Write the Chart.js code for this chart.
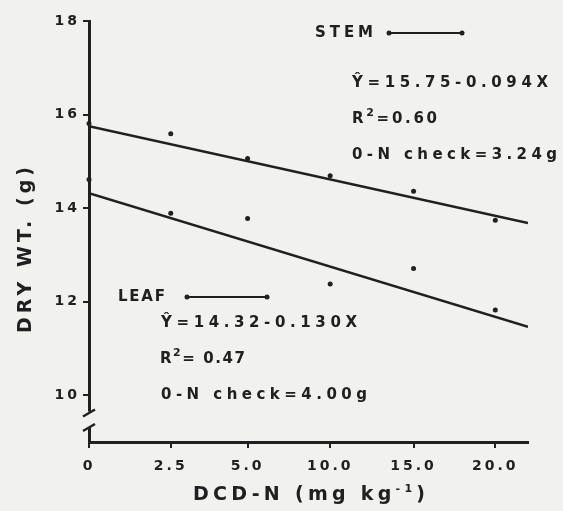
<!DOCTYPE html>
<html lang="en">
<head>
  <meta charset="UTF-8">
  <title>Dry weight vs DCD-N</title>
  <script src="https://cdn.jsdelivr.net/npm/chart.js"></script>
</head>
<style>
  body {
    margin: 0;
    background-color: #f1f1ef;
  }
  #divChart {
    width: 563px;
    height: 511px;
  }
</style>
<body>
  <div id="divChart">
    <canvas id="dryChart"></canvas>
  </div>
  <script>
    // Datos
    const doses = [0, 2.5, 5, 10, 15, 20];
    const tickLabels = ['0', '2.5', '5.0', '10.0', '15.0', '20.0'];
    const stemWt = [15.81, 15.59, 15.06, 14.69, 14.36, 13.74];
    const leafWt = [14.61, 13.89, 13.78, 12.38, 12.71, 11.82];
    const stemFit = [15.75, -0.094];
    const leafFit = [14.32, -0.130];
    const fitRange = [0, 22];
    const yTicks = [10, 12, 14, 16, 18];

    // el eje X esta dibujado a mano: ticks casi equidistantes
    const axisSlots = [0, 1, 1.94, 2.95, 3.97, 4.97];
    function pos(x) {
      let i = 0;
      while (i < doses.length - 2 && x > doses[i + 1]) i++;
      const t = (x - doses[i]) / (doses[i + 1] - doses[i]);
      return axisSlots[i] + t * (axisSlots[i + 1] - axisSlots[i]);
    }

    const ink = '#202020';
    const bg = '#f1f1ef';
    const family = '"DejaVu Sans", Arial, sans-serif';

    // texto con espaciado para ocupar un ancho dado
    function fitText(ctx, segs, x, y, w, align) {
      if (typeof segs === 'string') segs = [[segs]];
      const base = ctx.font;
      const fonts = segs.map(s => s[1] ? 'bold 11px ' + family : base);
      ctx.letterSpacing = '0px';
      let raw = 0, n = 0;
      segs.forEach((s, i) => { ctx.font = fonts[i]; raw += ctx.measureText(s[0]).width; n += s[0].length; });
      const ls = Math.max(0, (w - raw) / (n - 1));
      ctx.letterSpacing = ls + 'px';
      let cx = align === 'center' ? x - w / 2 : x;
      ctx.textAlign = 'left';
      segs.forEach((s, i) => {
        ctx.font = fonts[i];
        ctx.fillText(s[0], cx, s[1] ? y - 6 : y);
        cx += ctx.measureText(s[0]).width;
      });
      ctx.font = base;
    }

    function legendLine(ctx, x1, x2, y) {
      ctx.beginPath();
      ctx.moveTo(x1, y);
      ctx.lineTo(x2, y);
      ctx.lineWidth = 2;
      ctx.strokeStyle = ink;
      ctx.stroke();
      [x1, x2].forEach(x => {
        ctx.beginPath();
        ctx.arc(x, y, 2.5, 0, Math.PI * 2);
        ctx.fill();
      });
    }

    const paperPlugin = {
      id: 'paper',
      beforeDraw(chart) {
        chart.ctx.letterSpacing = '3px';
      },
      afterDraw(chart) {
        const ctx = chart.ctx;
        const y = chart.scales.y;
        const ax = chart.chartArea.left;
        ctx.save();
        // corte del eje Y
        const b1 = y.getPixelForValue(9.63);
        const b2 = y.getPixelForValue(9.32);
        ctx.fillStyle = bg;
        ctx.fillRect(ax - 3, b1 - 1, 6, b2 - b1 + 2);
        ctx.strokeStyle = ink;
        ctx.lineWidth = 2.5;
        [b1, b2].forEach(yy => {
          ctx.beginPath();
          ctx.moveTo(ax - 6, yy + 4);
          ctx.lineTo(ax + 6, yy - 3);
          ctx.stroke();
        });

        ctx.fillStyle = ink;
        ctx.textBaseline = 'middle';

        // titulos de ejes
        ctx.font = 'bold 19px ' + family;
        ctx.save();
        ctx.translate(26, 250);
        ctx.rotate(-Math.PI / 2);
        fitText(ctx, 'DRY WT. (g)', 0, 0, 166, 'center');
        ctx.restore();
        fitText(ctx, [['DCD-N (mg kg'], ['-1', true], [')']], 309, 495, 232, 'center');

        // anotaciones
        ctx.font = 'bold 15px ' + family;
        fitText(ctx, 'STEM', 315, 33, 58);
        legendLine(ctx, 389, 462, 33);
        fitText(ctx, '\u0176=15.75-0.094X', 352, 83, 196);
        fitText(ctx, [['R'], ['2', true], ['=0.60']], 352, 119, 85);
        fitText(ctx, '0-N check=3.24g', 352, 155, 205);

        fitText(ctx, 'LEAF', 118, 297, 47);
        legendLine(ctx, 187, 267, 297);
        fitText(ctx, '\u0176=14.32-0.130X', 161, 323, 196);
        fitText(ctx, [['R'], ['2', true], ['= 0.47']], 160, 359, 85);
        fitText(ctx, '0-N check=4.00g', 161, 395, 206);
        ctx.restore();
      }
    };

    const ctxChart = document.getElementById('dryChart').getContext('2d');
    new Chart(ctxChart, {
      type: 'scatter',
      data: {
        datasets: [{
          label: 'STEM',
          data: doses.map((d, i) => ({ x: pos(d), y: stemWt[i] })),
          backgroundColor: ink,
          borderWidth: 0,
          pointRadius: 2.5,
          clip: false
        },
        {
          label: 'LEAF',
          data: doses.map((d, i) => ({ x: pos(d), y: leafWt[i] })),
          backgroundColor: ink,
          borderWidth: 0,
          pointRadius: 2.5,
          clip: false
        },
        {
          label: 'STEM fit',
          data: fitRange.map(x => ({ x: pos(x), y: stemFit[0] + stemFit[1] * x })),
          showLine: true,
          borderColor: ink,
          borderWidth: 2.5,
          pointRadius: 0
        },
        {
          label: 'LEAF fit',
          data: fitRange.map(x => ({ x: pos(x), y: leafFit[0] + leafFit[1] * x })),
          showLine: true,
          borderColor: ink,
          borderWidth: 2.5,
          pointRadius: 0
        }]
      },
      options: {
        responsive: true,
        maintainAspectRatio: false,
        animation: false,
        layout: { padding: { left: 0, right: 35, top: 21, bottom: 0 } },
        plugins: { legend: { display: false }, tooltip: { enabled: false } },
        scales: {
          x: {
            type: 'linear',
            min: 0,
            max: pos(fitRange[1]),
            afterBuildTicks: s => { s.ticks = axisSlots.map(v => ({ value: v })); },
            afterFit: s => { s.height = 69; },
            ticks: {
              callback: (v, i) => tickLabels[i],
              autoSkip: false,
              maxRotation: 0,
              padding: 10,
              color: ink,
              font: { family: family, size: 14, weight: 'bold' }
            },
            grid: { drawOnChartArea: false, tickLength: 6, color: ink, lineWidth: 2 },
            border: { color: ink, width: 3 }
          },
          y: {
            min: 9,
            max: 18,
            afterBuildTicks: s => { s.ticks = yTicks.map(v => ({ value: v })); },
            afterFit: s => { s.width = 89; },
            ticks: {
              callback: v => v,
              padding: 3,
              color: ink,
              font: { family: family, size: 14, weight: 'bold' }
            },
            grid: { drawOnChartArea: false, tickLength: 6, color: ink, lineWidth: 2 },
            border: { color: ink, width: 3 }
          }
        }
      },
      plugins: [paperPlugin]
    });
  </script>
</body>
</html>
